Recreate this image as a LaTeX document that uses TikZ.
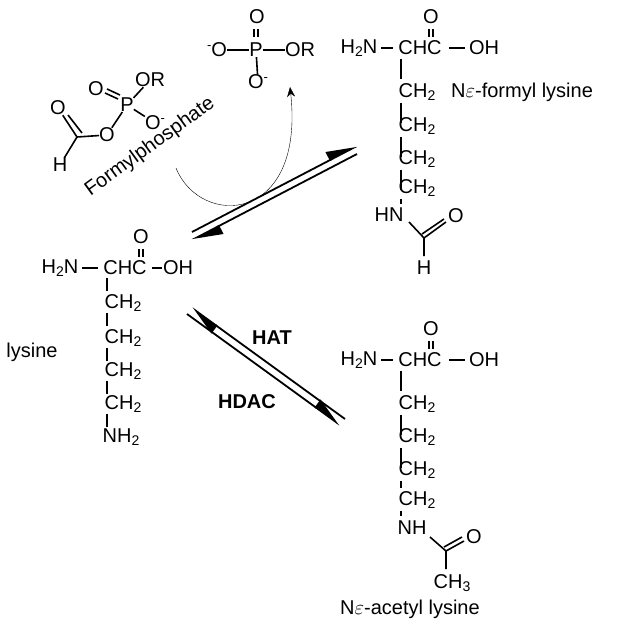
\documentclass[tikz,border=0pt]{standalone}
\usepackage{fontspec}
\setmainfont{Liberation Sans}
\usetikzlibrary{arrows.meta}
\newcommand{\sub}[1]{\raisebox{-0.3ex}{\fontsize{14}{14}\selectfont #1}}
\newcommand{\chg}[1]{\raisebox{0.7ex}{\fontsize{13}{13}\selectfont #1}}
\begin{document}
\begin{tikzpicture}[x=1pt,y=-1pt,
  t/.style={inner sep=0pt,font=\fontsize{20}{22}\selectfont},
  b/.style={line width=1.6pt},
  eq/.style={line width=1.8pt},
  hl/.style={-{Triangle[left,length=28pt,width=18pt]}},
  hr/.style={-{Triangle[right,length=28pt,width=18pt]}}]
\useasboundingbox (0,0) rectangle (620,637);
% ---------- lysine ----------
\node[t] (l1) at (60,268) {H\sub{2}N};
\node[t] (l2) at (125,268) {CHC};
\node[t] (l3) at (178,268) {OH};
\node[t] (lO) at (141,237) {O};
\draw[b] (82,268) -- (98,268);
\draw[b] (152,268) -- (162,268);
\draw[b] (139,249) -- (139,257);\draw[b] (143,249) -- (143,257);
\node[t] (lc1) at (123,303) {CH\sub{2}};
\node[t] (lc2) at (123,338) {CH\sub{2}};
\node[t] (lc3) at (123,371) {CH\sub{2}};
\node[t] (lc4) at (123,404) {CH\sub{2}};
\node[t] (ln) at (121,437) {NH\sub{2}};
\foreach \y in {278,313,348,381,414} \draw[b] (107,\y) -- (107,\y+13);
\node[t] (lys) at (32,352) {lysine};
% ---------- formyl lysine ----------
\node[t] (f1) at (359,48) {H\sub{2}N};
\node[t] (f2) at (420,48) {CHC};
\node[t] (f3) at (484,48) {OH};
\node[t] (fO) at (431,17) {O};
\draw[b] (381,48) -- (393,48);
\draw[b] (449,48) -- (465,48);
\draw[b] (429,29) -- (429,37);\draw[b] (433,29) -- (433,37);
\node[t] (fc1) at (417,92) {CH\sub{2}};
\node[t] (fc2) at (417,126) {CH\sub{2}};
\node[t] (fc3) at (417,159) {CH\sub{2}};
\node[t] (fc4) at (417,188) {CH\sub{2}};
\node[t] (fn) at (389,215) {HN};
\foreach \y in {59,103,137,170} \draw[b] (401,\y) -- (401,\y+20);
\draw[b] (401,199) -- (401,204);
\coordinate (fc) at (424,238);
\node[t] (fo2) at (456,216) {O};
\node[t] (fh) at (424,268) {H};
\draw[b] (409,222) -- (fc) -- (424,256);
\draw[b] (fc) -- (446,222);\draw[b] (422,234) -- (444,219);
\node[t,anchor=west] (fl) at (451,92) {N$\varepsilon$-formyl lysine};
% ---------- acetyl lysine ----------
\node[t] (a1) at (359,360) {H\sub{2}N};
\node[t] (a2) at (420,360) {CHC};
\node[t] (a3) at (484,360) {OH};
\node[t] (aO) at (431,329) {O};
\draw[b] (381,360) -- (393,360);
\draw[b] (449,360) -- (465,360);
\draw[b] (429,341) -- (429,349);\draw[b] (433,341) -- (433,349);
\node[t] (ac1) at (417,404) {CH\sub{2}};
\node[t] (ac2) at (417,437) {CH\sub{2}};
\node[t] (ac3) at (417,470) {CH\sub{2}};
\node[t] (ac4) at (417,500) {CH\sub{2}};
\node[t] (an) at (412,528) {NH};
\foreach \y in {371,415,448} \draw[b] (401,\y) -- (401,\y+20);
\draw[b] (401,481) -- (401,488); \draw[b] (401,511) -- (401,516);
\coordinate (ac) at (446,551);
\node[t] (ao2) at (474,537) {O};
\node[t] (ach) at (452,583) {CH\sub{3}};
\draw[b] (430,537) -- (ac) -- (446,569);
\draw[b] (ac) -- (464,541);\draw[b] (444,547) -- (462,537);
\node[t,anchor=north] (al) at (410,600) {N$\varepsilon$-acetyl lysine};
% ---------- formylphosphate ----------
\node[t] (pO1) at (58,108) {O};
\coordinate (pC) at (77,137);
\node[t] (pH) at (60,165) {H};
\node[t] (pO2) at (107,135) {O};
\node[t] (pP) at (127,105) {P};
\node[t] (pO3) at (96,89) {O};
\node[t] (pOR) at (150,80) {OR};
\node[t] (pOm) at (155,123) {O\chg{-}};
\draw[b] (pO1) -- (pC) -- (pH); \draw[b] (68,115) -- (82,133);
\draw[b] (pC) -- (pO2); \draw[b] (pO2) -- (pP);
\draw[b] (105,93) -- (118,99);\draw[b] (107,89) -- (120,95);
\draw[b] (pP) -- (pOR); \draw[b] (pP) -- (pOm);
\node[t,rotate=36] (fp) at (150,147) {Formylphosphate};
% ---------- phosphate ----------
\node[t] (qO) at (257,17) {O};
\node[t] (qP) at (256,50) {P};
\node[t] (qOm) at (217,50) {\chg{-}O};
\node[t] (qOR) at (300,50) {OR};
\node[t] (qOb) at (258,82) {O\chg{-}};
\draw[b] (254,29) -- (254,37);\draw[b] (258,29) -- (258,37);
\draw[b] (qOm) -- (qP) -- (qOR); \draw[b] (qP) -- (qOb);
% ---------- arrows ----------
\draw[thin,-{Stealth[length=10pt,width=8pt]}] (176,168) .. controls (200,228) and (305,225) .. (290,87);
\coordinate (e1a) at (192,232); \coordinate (e1b) at (357,146);
\coordinate (e2a) at (192,240); \coordinate (e2b) at (357,154);
\draw[eq,hl] (e1a) -- (e1b);
\draw[eq,hl] (e2b) -- (e2a);
\coordinate (e3a) at (187,314); \coordinate (e3b) at (340,425);
\coordinate (e4a) at (192,308); \coordinate (e4b) at (345,419);
\draw[eq,hl] (e4b) -- (e4a);
\draw[eq,hl] (e3a) -- (e3b);
\node[t,font=\fontsize{20}{22}\selectfont\bfseries] (hat) at (272,338) {HAT};
\node[t,font=\fontsize{20}{22}\selectfont\bfseries] (hdac) at (247,402) {HDAC};
\end{tikzpicture}
\end{document}
